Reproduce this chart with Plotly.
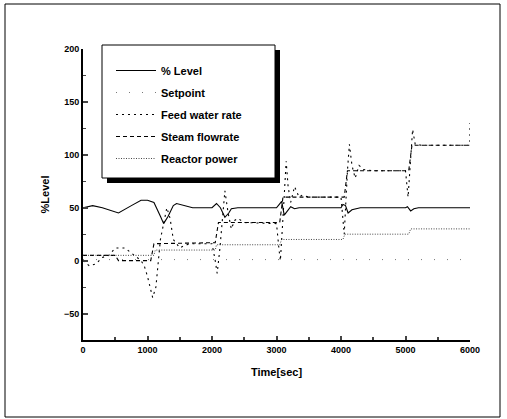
import plotly.graph_objects as go

# ---- data ----
level_t = [0, 150, 300, 550, 750, 900, 1000, 1100, 1200, 1250, 1320, 1400, 1450, 1600, 1700, 2000,
           2070, 2130, 2200, 2260, 2300, 2400, 3000, 3040, 3080, 3120, 3170, 3220, 3280, 3350, 4000,
           4030, 4070, 4110, 4170, 4230, 4300, 5000, 5030, 5080, 5130, 5200, 6000]
level_v = [50, 52, 50, 45, 52, 57, 57, 55, 42, 35, 42, 52, 54, 52, 50, 50,
           54, 50, 41, 45, 49, 50, 50, 53, 56, 43, 47, 51, 49, 50, 50,
           53, 52, 45, 48, 49, 50, 50, 51, 47, 49, 50, 50]

setpoint_t = [0, 6000]
setpoint_v = [1, 1]

feed_t = [0, 100, 200, 300, 400, 500, 650, 800, 900, 950, 1000, 1080, 1130, 1200, 1300, 1350,
          1400, 1500, 1600, 1700, 2000, 2050, 2080, 2120, 2170, 2200, 2250, 2300, 2350, 2400,
          2500, 3000, 3040, 3060, 3100, 3150, 3180, 3220, 3280, 3350, 3400, 3500, 4000, 4030,
          4050, 4100, 4130, 4170, 4220, 4280, 4350, 4500, 5000, 5040, 5080, 5110, 5150, 5250,
          6000, 6000]
feed_v = [0, -5, -3, 3, 5, 12, 12, 5, 0, -5, -15, -35, -25, 20, 50, 40,
          20, 12, 15, 16, 16, 0, -12, 10, 50, 66, 45, 30, 38, 40,
          36, 35, 10, 0, 40, 94, 70, 55, 70, 60, 62, 60, 60, 40,
          25, 85, 110, 90, 78, 90, 86, 85, 85, 60, 100, 124, 110, 109,
          109, 130]

steam_t = [0, 500, 550, 700, 750, 1050, 1100, 2050, 2100, 3050, 3100, 4050, 4100, 5050, 5100, 6000]
steam_v = [5, 5, 0, 0, 0, 0, 16, 17, 36, 36, 60, 60, 85, 85, 109, 109]

power_t = [0, 1100, 1120, 2050, 2070, 3050, 3080, 4030, 4060, 5050, 5080, 6000]
power_v = [5, 5, 10, 10, 15, 15, 20, 20, 25, 25, 30, 30]

series_names = ["% Level", "Setpoint", "Feed water rate", "Steam flowrate", "Reactor power"]

FONT = "Liberation Sans, Arial, sans-serif"

fig = go.Figure()
fig.add_trace(go.Scatter(x=level_t, y=level_v, mode="lines", name=series_names[0],
                         line=dict(color="black", width=1.1), legendgroup="a"))
fig.add_trace(go.Scatter(x=setpoint_t, y=setpoint_v, mode="lines", name=series_names[1],
                         line=dict(color="#555", width=0.8, dash="1px,12px"), legendgroup="b"))
fig.add_trace(go.Scatter(x=feed_t, y=feed_v, mode="lines", name=series_names[2],
                         line=dict(color="black", width=1.1, dash="2px,4px"), legendgroup="c"))
fig.add_trace(go.Scatter(x=steam_t, y=steam_v, mode="lines", name=series_names[3],
                         line=dict(color="black", width=1.1, dash="4px,3px"), legendgroup="d"))
fig.add_trace(go.Scatter(x=power_t, y=power_v, mode="lines", name=series_names[4],
                         line=dict(color="#333", width=0.9, dash="1px,1.5px"), legendgroup="e"))

def px2x(px):
    return (px - 83) / 387

def px2y(py):
    return (340 - py) / 291

shapes = [
    # outer frame
    dict(type="rect", xref="paper", yref="paper", x0=px2x(5), x1=px2x(500), y0=px2y(417), y1=px2y(4),
         line=dict(color="black", width=1), layer="below"),
    # legend shadow
    dict(type="rect", xref="paper", yref="paper", x0=px2x(107), x1=px2x(280), y0=px2y(183), y1=px2y(50),
         line=dict(width=0), fillcolor="black", layer="above"),
    # legend box
    dict(type="rect", xref="paper", yref="paper", x0=px2x(102), x1=px2x(275), y0=px2y(178), y1=px2y(45),
         line=dict(color="black", width=1), fillcolor="white", layer="above"),
]

fig.update_layout(
    width=507, height=419,
    margin=dict(l=83, r=37, t=49, b=79),
    paper_bgcolor="white", plot_bgcolor="white",
    font=dict(family=FONT, color="black", size=10, weight="bold"),
    showlegend=True,
    legend=dict(x=px2x(111), y=px2y(56), xanchor="left", yanchor="top",
                bgcolor="rgba(0,0,0,0)", borderwidth=0,
                font=dict(family=FONT, size=11, weight="bold"),
                traceorder="grouped", tracegroupgap=3, itemwidth=40),
    shapes=shapes,
    xaxis=dict(range=[0, 6000], dtick=1000, tick0=0, ticks="inside", ticklen=4, tickwidth=1.5,
               showline=True, linecolor="black", linewidth=2, showgrid=False, zeroline=False,
               automargin=False,
               tickfont=dict(size=9, weight="bold"),
               minor=dict(dtick=500, ticks="inside", ticklen=3, tickwidth=1.5),
               title=dict(text="Time[sec]", font=dict(size=11, weight="bold"), standoff=15)),
    yaxis=dict(range=[-75, 200], dtick=50, tick0=0, ticks="inside", ticklen=5, tickwidth=1.5,
               showline=True, linecolor="black", linewidth=2, showgrid=False, zeroline=False,
               automargin=False,
               tickfont=dict(size=9, weight="bold"),
               minor=dict(dtick=25, ticks="inside", ticklen=3, tickwidth=1.2),
               title=dict(text="%Level", font=dict(size=11, weight="bold"), standoff=12)),
)

fig.write_html("out.html", config={"displayModeBar": False},
               post_script="document.body.style.margin='0';")
